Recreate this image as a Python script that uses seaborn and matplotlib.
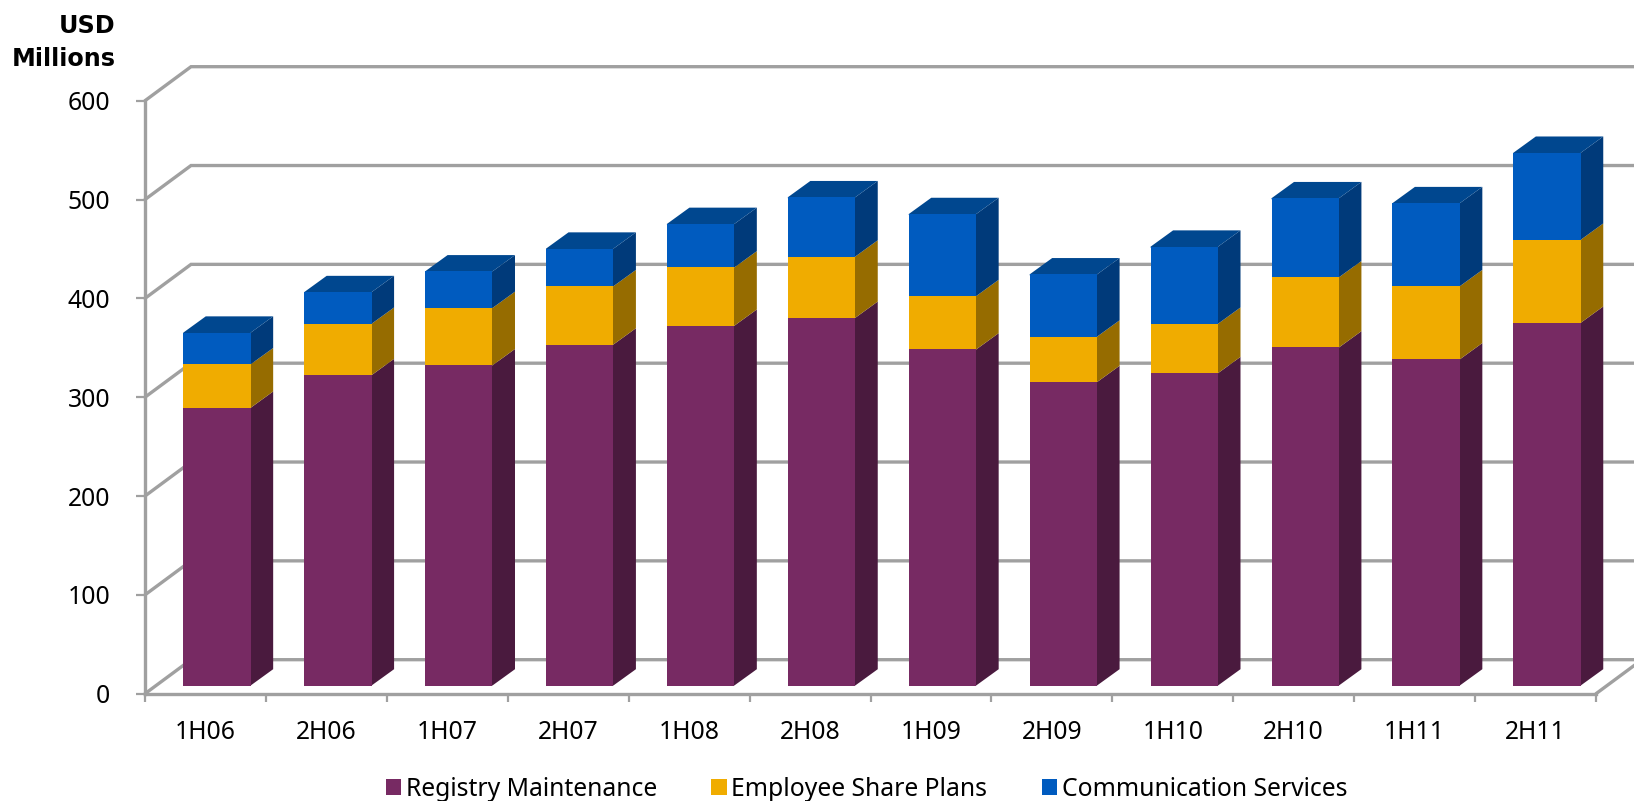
import numpy as np
import matplotlib
matplotlib.use("Agg")
import matplotlib.pyplot as plt
from matplotlib.patches import Patch, Polygon
import seaborn as sns

periods = ["1H06", "2H06", "1H07", "2H07", "1H08", "2H08",
           "1H09", "2H09", "1H10", "2H10", "1H11", "2H11"]
registry = [281, 314, 324, 345, 364, 372, 340, 307, 316, 342, 330, 367]
employee = [44, 52, 58, 59, 59, 62, 54, 46, 50, 71, 74, 84]
communication = [32, 32, 37, 38, 44, 60, 83, 63, 78, 80, 84, 88]
series_names = ["Registry Maintenance", "Employee Share Plans", "Communication Services"]
y_ticks = [0, 100, 200, 300, 400, 500, 600]

front_colors = ["#772A63", "#F0AC00", "#005BBF"]
side_colors = ["#4A1A3E", "#966C00", "#003A7A"]
top_color = "#00478F"
line_color = "#A0A0A0"

W, H = 1634, 801
sns.set_theme(style="white")
plt.rcParams["font.family"] = ["Noto Sans", "DejaVu Sans"]
fig = plt.figure(figsize=(W / 100, H / 100), dpi=100, facecolor="white")


def place(left, right, top, bottom):
    return [left / W, 1 - bottom / H, (right - left) / W, (bottom - top) / H]


# Chart walls: front axes plus gridlines receding to the back plane
ax = fig.add_axes(place(145, 1596, 100.7, 693.7))
ax.set_xlim(-0.5, 11.5)
ax.set_ylim(0, 600)
ax.set_facecolor("none")
wall_dx, wall_dy = 46 / 120.9, 34 / 0.988
for v in y_ticks:
    ax.plot([-0.5, -0.5 + wall_dx, 11.5 + wall_dx], [v, v + wall_dy, v + wall_dy],
            color=line_color, lw=2.4, clip_on=False, solid_joinstyle="miter", zorder=1)
ax.plot([11.5, 11.5 + wall_dx], [0, wall_dy], color=line_color, lw=2.4, clip_on=False, zorder=1)
for name in ("top", "right"):
    ax.spines[name].set_visible(False)
for name in ("left", "bottom"):
    ax.spines[name].set_color(line_color)
    ax.spines[name].set_linewidth(2.4)
ax.set_yticks(y_ticks)
ax.set_xticks(np.arange(-0.5, 12, 1))
ax.set_xticklabels([])
ax.tick_params(axis="y", length=6.5, width=1.6, color=line_color, pad=18.5,
               labelsize=17.8, labelcolor="black", left=True)
ax.tick_params(axis="x", length=5.8, width=1.6, color=line_color, bottom=True)
ax.grid(False)
for i, label in enumerate(periods):
    ax.annotate(label, xy=(i, 0), xycoords=("data", "axes fraction"), xytext=(0, -32.5),
                textcoords="offset points", ha="center", va="baseline",
                fontsize=17.8, color="black")

# Bars sit part way back on the floor, so they get their own shifted axes
bar_ax = fig.add_axes(place(145 + 11.5, 1596 + 11.5, 100.7 - 8.2, 693.7 - 8.2))
bar_ax.set_facecolor("none")
bar_width = 67.4 / 120.9
bottom = np.zeros(len(periods))
for values, color in zip((registry, employee, communication), front_colors):
    sns.barplot(x=periods, y=values, bottom=bottom, color=color, saturation=1,
                width=bar_width, linewidth=0, ax=bar_ax, zorder=3)
    bottom = bottom + np.asarray(values)
bar_ax.set_xlim(-0.5, 11.5)
bar_ax.set_ylim(0, 600)
bar_ax.axis("off")

# Extruded side and top faces derived from the stacked values; they start
# slightly under the front faces so no seam shows along the shared edge
depth_dx, depth_dy = 22.5 / 120.9, 16.3 / 0.988
overlap = 0.015
base = np.zeros(len(periods))
for values, color in zip((registry, employee, communication), side_colors):
    tops = base + np.asarray(values)
    for i in range(len(periods)):
        xr = i + bar_width / 2
        bar_ax.add_patch(Polygon(
            [(xr - overlap, base[i]), (xr, base[i]), (xr + depth_dx, base[i] + depth_dy),
             (xr + depth_dx, tops[i] + depth_dy), (xr, tops[i]), (xr - overlap, tops[i])],
            facecolor=color, edgecolor="none", clip_on=False, zorder=2))
    base = tops
for i, total in enumerate(base):
    xl, xr = i - bar_width / 2, i + bar_width / 2
    bar_ax.add_patch(Polygon(
        [(xl, total - 1), (xr, total - 1), (xr, total), (xr + depth_dx, total + depth_dy),
         (xl + depth_dx, total + depth_dy), (xl, total)],
        facecolor=top_color, edgecolor="none", clip_on=False, zorder=2.5))

# Unit caption above the value axis
bold_font = dict(family="DejaVu Sans", fontweight="bold", fontsize=17.2, color="black")
fig.text(115.5 / W, 1 - 33 / H, "USD", ha="right", va="baseline", **bold_font)
fig.text(115.5 / W, 1 - 66 / H, "Millions", ha="right", va="baseline", **bold_font)

handles = [Patch(facecolor=c, edgecolor="none", label=n)
           for c, n in zip(front_colors, series_names)]
fig.legend(handles=handles, ncol=3, loc="lower left",
           bbox_to_anchor=(368.5 / W, -18 / H), frameon=False, fontsize=17.8,
           handlelength=0.61, handleheight=0.61, handletextpad=0.2,
           columnspacing=2.2, borderpad=0.2, labelcolor="black")

fig.savefig("out.png", dpi=100, facecolor="white")
